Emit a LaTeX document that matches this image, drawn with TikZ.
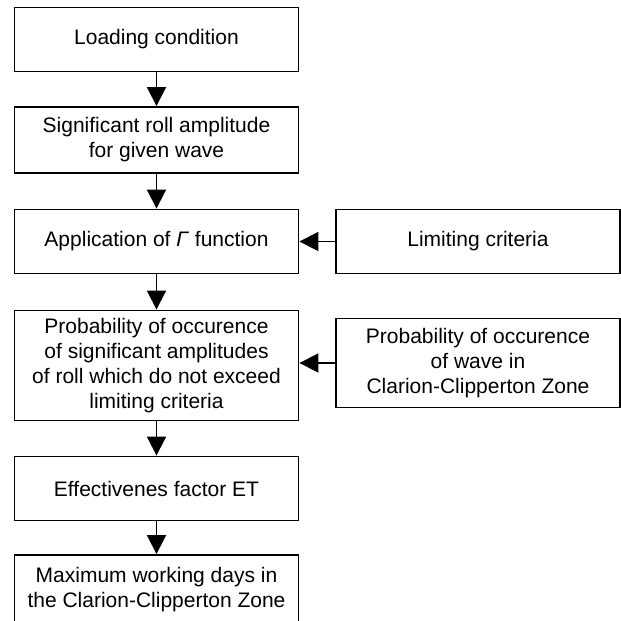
\documentclass[tikz,border=0pt]{standalone}
\usepackage{fontspec}
\setmainfont{Liberation Sans}
\usetikzlibrary{arrows.meta}

\tikzset{
	box/.style={draw, line width=0.95pt, minimum width=142pt, minimum height=32pt,
		align=center, inner sep=0pt, font=\fontsize{10.5}{12.5}\selectfont},
	flow/.style={line width=0.95pt, -{Triangle[width=9.5pt,length=9.5pt]}}
}

\begin{document}
\begin{tikzpicture}[x=0.5pt,y=-0.5pt]

			\useasboundingbox (0,0) rectangle (621,621);

			% main column
			\node[box] (load) at (156.5, 39.5) {Loading condition};
			\node[box, minimum height=33pt] (amp) at (156.5, 140) {Significant roll amplitude\\for given wave};
			\node[box] (gamma) at (156.5, 241.5) {Application of \textit{Γ} function};
			\node[box, minimum height=55pt] (prob) at (156.5, 365.5) {Probability of occurence\\of significant amplitudes\\of roll which do not exceed\\limiting criteria};
			\node[box] (eff) at (156.5, 488.5) {Effectivenes factor ET};
			\node[box, minimum height=35pt] (days) at (156.5, 590) {Maximum working days in\\the Clarion-Clipperton Zone};

			% side inputs
			\node[box] (limit) at (478, 241.5) {Limiting criteria};
			\node[box, minimum height=44.5pt] (wave) at (478, 363) {Probability of occurence\\of wave in\\Clarion-Clipperton Zone};

			\draw[flow] (load) -- (amp);
			\draw[flow] (amp) -- (gamma);
			\draw[flow] (gamma) -- (prob);
			\draw[flow] (prob) -- (eff);
			\draw[flow] (eff) -- (days);

			\draw[flow] (limit) -- (gamma);
			\draw[flow] (wave.west) -- (wave.west -| prob.east);

		\end{tikzpicture}
\end{document}
